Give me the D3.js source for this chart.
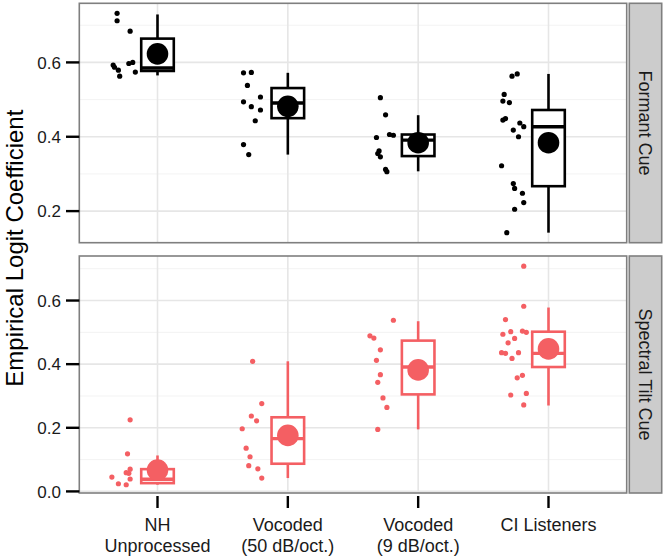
<!DOCTYPE html>
<html>
<head>
<meta charset="utf-8">
<script src="https://cdn.jsdelivr.net/npm/d3@7"></script>
<style>
  html, body { margin: 0; padding: 0; background: #fff; }
  svg { display: block; font-family: "Liberation Sans", Arial, Helvetica, sans-serif; }
</style>
</head>
<body>
<svg id="chart" width="666" height="558"></svg>
<script>
// ---------------- DATA ----------------
const categories = ["NH Unprocessed", "Vocoded (50 dB/oct.)", "Vocoded (9 dB/oct.)", "CI Listeners"];
const categoryLines = [["NH", "Unprocessed"], ["Vocoded", "(50 dB/oct.)"], ["Vocoded", "(9 dB/oct.)"], ["CI Listeners"]];
const panelNames = ["Formant Cue", "Spectral Tilt Cue"];
const yAxisTitle = "Empirical Logit Coefficient";

// Formant cue: individual listener values (per category) and horizontal jitter (category units)
const formantValues = [
  [0.732, 0.712, 0.684, 0.593, 0.587, 0.579, 0.563, 0.597, 0.600, 0.574],
  [0.572, 0.573, 0.538, 0.507, 0.494, 0.481, 0.472, 0.443, 0.379, 0.352],
  [0.505, 0.459, 0.398, 0.406, 0.404, 0.362, 0.355, 0.346, 0.312, 0.306],
  [0.563, 0.569, 0.514, 0.496, 0.492, 0.445, 0.449, 0.437, 0.418, 0.427, 0.400, 0.322, 0.274, 0.261, 0.248, 0.223, 0.205, 0.142]
];
const formantJitter = [
  [-0.31, -0.31, -0.21, -0.34, -0.33, -0.30, -0.29, -0.22, -0.19, -0.17],
  [-0.34, -0.28, -0.31, -0.21, -0.34, -0.28, -0.21, -0.25, -0.34, -0.30],
  [-0.29, -0.25, -0.32, -0.22, -0.19, -0.30, -0.31, -0.29, -0.25, -0.24],
  [-0.28, -0.24, -0.34, -0.35, -0.30, -0.35, -0.33, -0.22, -0.27, -0.19, -0.23, -0.36, -0.27, -0.26, -0.20, -0.19, -0.26, -0.32]
];
// box stats: [lower whisker, Q1, median, Q3, upper whisker]
const formantBox = [
  [0.565, 0.577, 0.585, 0.664, 0.729],
  [0.352, 0.450, 0.491, 0.531, 0.572],
  [0.307, 0.348, 0.391, 0.406, 0.458],
  [0.142, 0.267, 0.427, 0.472, 0.569]
];
const formantMean = [0.623, 0.482, 0.384, 0.384];

// Spectral tilt cue
const spectralValues = [
  [0.045, 0.024, 0.021, 0.039, 0.057, 0.059, 0.070, 0.118, 0.225],
  [0.409, 0.276, 0.237, 0.222, 0.197, 0.136, 0.109, 0.081, 0.071, 0.042],
  [0.538, 0.489, 0.482, 0.445, 0.412, 0.367, 0.343, 0.294, 0.264, 0.195],
  [0.708, 0.582, 0.540, 0.494, 0.502, 0.504, 0.500, 0.481, 0.467, 0.436, 0.434, 0.418, 0.436, 0.357, 0.365, 0.303, 0.308, 0.272]
];
const spectralJitter = [
  [-0.35, -0.30, -0.24, -0.21, -0.22, -0.24, -0.21, -0.23, -0.21],
  [-0.27, -0.20, -0.28, -0.24, -0.35, -0.32, -0.29, -0.30, -0.23, -0.20],
  [-0.19, -0.37, -0.34, -0.29, -0.32, -0.29, -0.31, -0.27, -0.24, -0.31],
  [-0.19, -0.19, -0.33, -0.35, -0.29, -0.20, -0.17, -0.26, -0.31, -0.36, -0.33, -0.28, -0.23, -0.24, -0.20, -0.29, -0.17, -0.19]
];
const spectralBox = [
  [0.021, 0.026, 0.038, 0.070, 0.113],
  [0.042, 0.087, 0.166, 0.233, 0.409],
  [0.195, 0.305, 0.391, 0.474, 0.535],
  [0.270, 0.391, 0.434, 0.502, 0.578]
];
const spectralMean = [0.067, 0.176, 0.382, 0.448];

const formantTicks = [0.2, 0.4, 0.6];
const spectralTicks = [0.0, 0.2, 0.4, 0.6];
const formantDomain = [0.115, 0.759];
const spectralDomain = [-0.005, 0.740];
const panelColors = ["#000000", "#F45F63"];

// ---------------- LAYOUT ----------------
const svg = d3.select("#chart");
const L = 79.3, R = 626.7;
const panelsLayout = [
  { top: 3.3, bottom: 242.7, values: formantValues, jitter: formantJitter, box: formantBox, mean: formantMean, ticks: formantTicks, domain: formantDomain },
  { top: 256, bottom: 493, values: spectralValues, jitter: spectralJitter, box: spectralBox, mean: spectralMean, ticks: spectralTicks, domain: spectralDomain }
];

const x = d3.scalePoint().domain(categories).range([L, R]).padding(0.6);
const step = x.step();

panelsLayout.forEach((p, pi) => {
  const color = panelColors[pi];
  const y = d3.scaleLinear().domain(p.domain).range([p.bottom, p.top]);
  const g = svg.append("g");

  g.append("rect").attr("x", L).attr("y", p.top).attr("width", R - L).attr("height", p.bottom - p.top).attr("fill", "#fff");

  // minor gridlines
  const minor = [];
  const t0 = p.ticks[0] - 0.1;
  for (let k = 0; k < 12; k++) {
    const v = +(t0 + k * 0.2).toFixed(3);
    if (v > p.domain[0] && v < p.domain[1]) minor.push(v);
  }
  g.selectAll(".minor").data(minor).enter().append("line")
    .attr("x1", L).attr("x2", R).attr("y1", d => y(d)).attr("y2", d => y(d))
    .attr("stroke", "#F3F3F3").attr("stroke-width", 1);

  // major horizontal gridlines
  g.selectAll(".major").data(p.ticks).enter().append("line")
    .attr("x1", L).attr("x2", R).attr("y1", d => y(d)).attr("y2", d => y(d))
    .attr("stroke", "#E6E6E6").attr("stroke-width", 1.6);

  // vertical gridlines
  g.selectAll(".vg").data(categories).enter().append("line")
    .attr("x1", d => x(d)).attr("x2", d => x(d)).attr("y1", p.top).attr("y2", p.bottom)
    .attr("stroke", "#E6E6E6").attr("stroke-width", 1.6);

  // points
  categories.forEach((c, ci) => {
    g.selectAll(null).data(p.values[ci]).enter().append("circle")
      .attr("cx", (d, i) => x(c) + p.jitter[ci][i] * step)
      .attr("cy", d => y(d))
      .attr("r", 2.6)
      .attr("fill", color);
  });

  // boxplots
  const bw = 0.25 * step;
  categories.forEach((c, ci) => {
    const b = p.box[ci];
    const cx = x(c);
    g.append("line").attr("x1", cx).attr("x2", cx).attr("y1", y(b[4])).attr("y2", y(b[3]))
      .attr("stroke", color).attr("stroke-width", 2.6);
    g.append("line").attr("x1", cx).attr("x2", cx).attr("y1", y(b[1])).attr("y2", y(b[0]))
      .attr("stroke", color).attr("stroke-width", 2.6);
    g.append("rect").attr("x", cx - bw / 2).attr("width", bw)
      .attr("y", y(b[3])).attr("height", y(b[1]) - y(b[3]))
      .attr("fill", "#fff").attr("stroke", color).attr("stroke-width", 2.6);
    g.append("line").attr("x1", cx - bw / 2).attr("x2", cx + bw / 2).attr("y1", y(b[2])).attr("y2", y(b[2]))
      .attr("stroke", color).attr("stroke-width", 3.4);
    g.append("circle").attr("cx", cx).attr("cy", y(p.mean[ci])).attr("r", 10.8).attr("fill", color);
  });

  // panel border
  g.append("rect").attr("x", L).attr("y", p.top).attr("width", R - L).attr("height", p.bottom - p.top)
    .attr("fill", "none").attr("stroke", "#7F7F7F").attr("stroke-width", 1.6);

  // strip
  const sx = 629.3, sw = 32.4;
  g.append("rect").attr("x", sx).attr("y", p.top).attr("width", sw).attr("height", p.bottom - p.top)
    .attr("fill", "#CCCCCC").attr("stroke", "#7F7F7F").attr("stroke-width", 1.6);
  const my = (p.top + p.bottom) / 2;
  g.append("text")
    .attr("transform", `translate(${sx + sw / 2},${my}) rotate(90)`)
    .attr("text-anchor", "middle").attr("dy", "0.35em")
    .attr("font-size", 18).attr("fill", "#1a1a1a")
    .text(panelNames[pi]);

  // y axis ticks and labels
  g.selectAll(".yt").data(p.ticks).enter().append("line")
    .attr("x1", 66).attr("x2", L).attr("y1", d => y(d)).attr("y2", d => y(d))
    .attr("stroke", "#000").attr("stroke-width", 2.4);
  g.selectAll(".yl").data(p.ticks).enter().append("text")
    .attr("x", 61).attr("y", d => y(d)).attr("dy", "0.36em")
    .attr("text-anchor", "end").attr("font-size", 17).attr("fill", "#1a1a1a")
    .text(d => d3.format(".1f")(d));
});

// x axis ticks and labels
const xb = panelsLayout[1].bottom;
svg.selectAll(".xt").data(categories).enter().append("line")
  .attr("x1", d => x(d)).attr("x2", d => x(d)).attr("y1", xb + 3).attr("y2", xb + 15)
  .attr("stroke", "#000").attr("stroke-width", 2.4);
categories.forEach((c, ci) => {
  const t = svg.append("text").attr("text-anchor", "middle").attr("font-size", 18).attr("fill", "#1a1a1a");
  categoryLines[ci].forEach((line, li) => {
    t.append("tspan").attr("x", x(c)).attr("y", 531 + li * 21).text(line);
  });
});

// y axis title
svg.append("text")
  .attr("transform", `translate(23,${(panelsLayout[0].top + panelsLayout[1].bottom) / 2}) rotate(-90)`)
  .attr("text-anchor", "middle").attr("font-size", 24).attr("fill", "#000")
  .text(yAxisTitle);
</script>
</body>
</html>
